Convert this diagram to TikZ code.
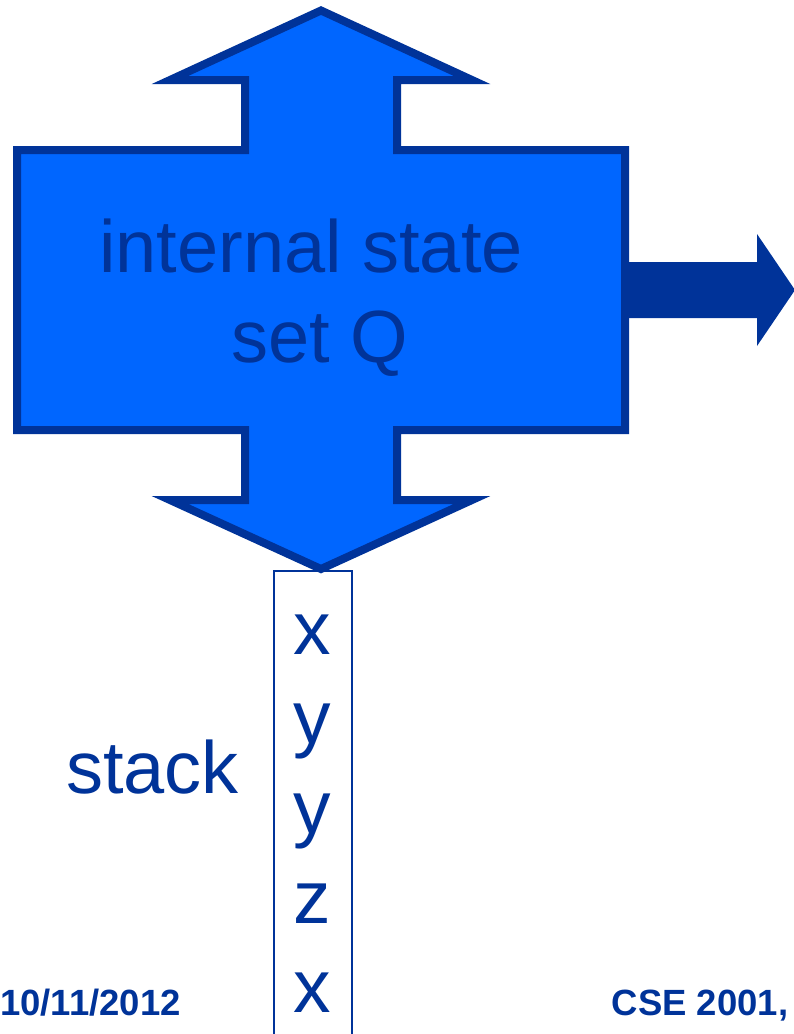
\documentclass[tikz,border=0pt]{standalone}
\usepackage{fontspec}
\setmainfont{Liberation Sans}
\definecolor{brightblue}{HTML}{0066FF}
\definecolor{darkblue}{HTML}{003399}
\tikzset{
  bigtext/.style={text=darkblue, inner sep=0pt, anchor=base, font=\fontsize{74}{89}\selectfont},
  stacktext/.style={text=darkblue, inner sep=0pt, anchor=base, font=\fontsize{75}{90}\selectfont},
  foot/.style={text=darkblue, inner sep=0pt, anchor=base, font=\bfseries\fontsize{36.5}{43}\selectfont},
  statebox/.style={fill=brightblue, draw=darkblue, line width=8pt, line join=miter},
  outarrow/.style={fill=darkblue, draw=none},
  stackbox/.style={draw=darkblue, line width=2pt}
}
\begin{document}
\begin{tikzpicture}[x=1pt, y=-1pt]
\useasboundingbox (0,0) rectangle (794,1034);
\clip (0,0) rectangle (794,1034);
% stack box (open at bottom)
\draw[stackbox] (274,1040) -- (274,571) -- (351.5,571) -- (351.5,1040);
% state set shape with two vertical arrows
\draw[statebox] (17,150) -- (245,150) -- (245,80) -- (170,80) -- (321,10.5) -- (472,80)
  -- (397,80) -- (397,150) -- (625,150) -- (625,430) -- (397,430) -- (397,500)
  -- (472,500) -- (321,569) -- (170,500) -- (245,500) -- (245,430) -- (17,430) -- cycle;
% output arrow
\fill[outarrow] (629,262) -- (757,262) -- (757,234) -- (795,290) -- (757,346) -- (757,318) -- (629,318) -- cycle;
% texts
\node[bigtext] (l1) at (311,272) {internal state};
\node[bigtext] (l2) at (320,362) {set Q};
\node[bigtext, anchor=base west] (stk) at (66,793) {stack};
\node[stacktext] (s1) at (312.5,654) {x};
\node[stacktext] (s2) at (312.5,743.5) {y};
\node[stacktext] (s3) at (312.5,833) {y};
\node[stacktext] (s4) at (312.5,923) {z};
\node[stacktext] (s5) at (312.5,1012) {x};
\node[foot, anchor=base west] (date) at (0,1015) {10/11/2012};
\node[foot, anchor=base west] (course) at (611.5,1015) {CSE 2001,};
\end{tikzpicture}
\end{document}
